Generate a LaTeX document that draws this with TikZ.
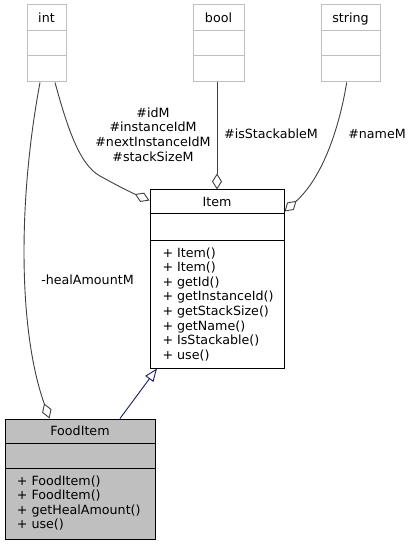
\documentclass[tikz,border=0pt]{standalone}
\usepackage{fontspec}
\setmainfont{DejaVu Sans}
\usetikzlibrary{arrows.meta,calc}
\definecolor{edgegray}{HTML}{404040}
\definecolor{boxgray}{HTML}{BFBFBF}
\definecolor{inhblue}{HTML}{191970}
\begin{document}
\begin{tikzpicture}[x=1pt,y=-1pt,
  txt/.style={font=\fontsize{12.67}{14.6}\selectfont, inner sep=0pt},
  typebox/.style={draw=boxgray, line width=1pt, fill=white, minimum height=77pt, inner sep=0pt},
  classbox/.style={draw=black, line width=1pt, inner sep=0pt},
  agg/.style={draw=edgegray, line width=0.9pt, -{Diamond[open,length=16pt,width=10pt]}},
  inh/.style={draw=inhblue, line width=0.9pt, -{Triangle[open,length=13pt,width=10pt]}},
]
\useasboundingbox (0,0) rectangle (413,545);
\fill[white] (0,0) rectangle (413,545);

% type boxes
\node[typebox, minimum width=39pt] (int) at (46.5,43.5) {};
\node[typebox, minimum width=51pt] (bool) at (218.5,43.5) {};
\node[typebox, minimum width=59pt] (string) at (350.5,43.5) {};
\foreach \b in {int,bool,string}{
  \draw[boxgray, line width=1pt] ($(\b.north west)+(0,26)$) -- ($(\b.north east)+(0,26)$);
  \draw[boxgray, line width=1pt] ($(\b.north west)+(0,51.5)$) -- ($(\b.north east)+(0,51.5)$);
}
\node[txt, anchor=base] (intname) at (46.5,22.6) {int};
\node[txt, anchor=base] (boolname) at (218.5,22.6) {bool};
\node[txt, anchor=base] (stringname) at (350.5,22.6) {string};

% Item
\node[classbox, fill=white, minimum width=134pt, minimum height=178pt] (Item) at (217,279) {};
\draw[black, line width=1pt] ($(Item.north west)+(0,24)$) -- ($(Item.north east)+(0,24)$);
\draw[black, line width=1pt] ($(Item.north west)+(0,51)$) -- ($(Item.north east)+(0,51)$);
\node[txt, anchor=base] (itemname) at (217,206.7) {Item};
\foreach \t [count=\i from 0] in {+ Item(),+ Item(),+ getId(),+ getInstanceId(),+ getStackSize(),+ getName(),+ IsStackable(),+ use()}{
  \node[txt, anchor=base west] (itemm\i) at (162.3,{257+14.6*\i}) {\t};
}

% FoodItem
\node[classbox, fill=boxgray, minimum width=150pt, minimum height=120pt] (FoodItem) at (80,479) {};
\draw[black, line width=1pt] ($(FoodItem.north west)+(0,25)$) -- ($(FoodItem.north east)+(0,25)$);
\draw[black, line width=1pt] ($(FoodItem.north west)+(0,50)$) -- ($(FoodItem.north east)+(0,50)$);
\node[txt, anchor=base] (foodname) at (80,435.5) {FoodItem};
\foreach \t [count=\i from 0] in {+ FoodItem(),+ FoodItem(),+ getHealAmount(),+ use()}{
  \node[txt, anchor=base west] (foodm\i) at (16.7,{485+14.6*\i}) {\t};
}

% edges
\draw[agg] ($(int.south)+(8.5,0)$) .. controls (68,130) and (80,165) .. (100,176)
  .. controls (118,186) and (130,192) .. ($(Item.north west)+(0,11)$);
\draw[agg] (Item.north |- bool.south) -- (Item.north);
\draw[agg] ($(string.south)+(-3.8,0)$) .. controls (338,135) and (320,180) .. ($(Item.north east)+(0,22)$);
\draw[agg] ($(int.south)+(-6.5,0)$) .. controls (18,200) and (18,330) .. ($(FoodItem.north west)+(45,0)$);
\draw[inh] ($(FoodItem.north)+(40,0)$) -- ($(Item.south)+(-60,0)$);

% labels
\node[txt, align=center] (lblid) at (153,134.5) {\#idM\\\#instanceIdM\\\#nextInstanceIdM\\\#stackSizeM};
\node[txt] (lblstack) at (271,134) {\#isStackableM};
\node[txt] (lblname) at (377,134) {\#nameM};
\node[txt] (lblheal) at (87.5,280) {-healAmountM};
\end{tikzpicture}
\end{document}
